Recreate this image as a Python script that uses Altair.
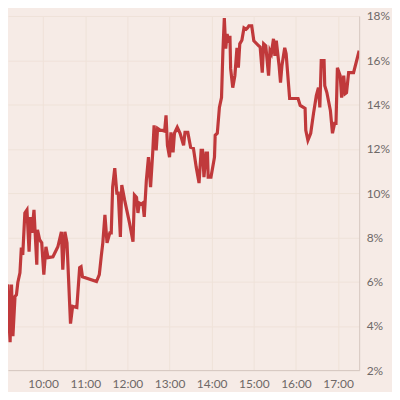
import altair as alt
import pandas as pd

times = ["09:00","09:01","09:02","09:03","09:04","09:06","09:08","09:10","09:11","09:13","09:15","09:17","09:20","09:22","09:24","09:27","09:29","09:31","09:34","09:37","09:40","09:42","09:44","09:47","09:51","09:52","09:55","09:58","10:01","10:04","10:07","10:14","10:21","10:26","10:28","10:31","10:34","10:39","10:42","10:48","10:52","10:54","10:56","11:16","11:20","11:23","11:25","11:28","11:31","11:35","11:37","11:39","11:42","11:45","11:47","11:50","11:52","11:56","12:03","12:08","12:10","12:13","12:15","12:17","12:20","12:22","12:24","12:27","12:30","12:33","12:36","12:38","12:41","12:43","12:47","12:50","12:53","12:55","12:57","13:00","13:02","13:05","13:07","13:11","13:15","13:20","13:22","13:26","13:30","13:34","13:38","13:42","13:45","13:47","13:49","13:52","13:54","13:55","13:59","14:04","14:05","14:08","14:11","14:14","14:16","14:18","14:20","14:22","14:24","14:26","14:27","14:30","14:33","14:36","14:38","14:40","14:43","14:46","14:49","14:51","14:53","14:57","15:00","15:07","15:09","15:12","15:14","15:17","15:21","15:23","15:25","15:28","15:30","15:32","15:36","15:38","15:40","15:44","15:46","15:51","15:57","16:03","16:06","16:13","16:14","16:17","16:21","16:25","16:29","16:32","16:34","16:36","16:40","16:41","16:44","16:49","16:52","16:55","16:57","16:59","17:03","17:05","17:08","17:10","17:12","17:15","17:22","17:30"]
values = [4.6,6.9,4.5,6.9,5.0,6.2,5.06,5.87,4.5,3.26,5.87,3.53,5.33,5.4,5.96,6.4,7.53,7.2,9.10,9.24,7.35,8.92,8.20,9.24,6.76,8.34,7.9,7.75,6.31,7.57,7.08,7.12,7.57,8.25,6.54,8.25,7.75,4.1,4.88,4.83,6.63,6.67,6.22,6.0,6.31,7.21,7.75,9.01,7.75,8.2,8.2,10.27,11.12,10.0,10.0,8.02,10.36,9.69,8.65,7.80,9.91,9.8,9.10,9.55,9.5,9.55,8.92,10.58,11.62,10.27,11.80,13.06,11.93,12.92,12.83,12.83,12.8,13.51,12.16,11.62,12.74,11.84,12.7,12.97,12.7,12.16,12.74,12.74,12.07,12.02,11.17,10.45,11.93,11.93,10.72,11.80,11.80,10.72,10.72,11.62,12.61,12.70,13.87,14.31,16.43,17.91,16.52,17.19,16.79,17.10,15.62,14.76,15.30,16.56,15.66,16.74,16.9,17.46,17.4,17.46,17.55,17.55,16.88,16.65,16.6,15.44,16.74,16.65,15.30,16.43,16.3,16.97,16.20,16.88,15.75,14.99,15.75,16.56,16.29,14.27,14.27,14.27,13.96,13.82,12.83,12.38,12.70,13.60,14.40,14.76,13.87,15.98,15.98,14.85,14.54,13.73,12.70,13.15,13.15,15.66,15.30,14.31,15.30,14.49,14.54,15.44,15.44,16.43]
hour_ticks = [10, 11, 12, 13, 14, 15, 16, 17]
pct_ticks = [2, 4, 6, 8, 10, 12, 14, 16, 18]

df = pd.DataFrame({"time": ["2024-01-01T" + t for t in times], "value": values})

bg = "#f6ebe6"
grid = "#efe2d9"
axis_col = "#d5c7bf"
label_col = "#6e6866"

x_axis = alt.Axis(format="%H:%M",
                  values=[alt.DateTime(year=2024, month=1, date=1, hours=h) for h in hour_ticks],
                  grid=True, gridColor=grid, domainColor=axis_col, ticks=False, labelPadding=8,
                  labelFont="Lato", labelFontSize=12, labelColor=label_col, title=None)
y_axis = alt.Axis(orient="right", values=pct_ticks, labelExpr="datum.value + '%'",
                  grid=True, gridColor=grid, domainColor=axis_col, ticks=False, labelPadding=7,
                  labelFont="Lato", labelFontSize=12, labelColor=label_col, title=None)

chart = alt.Chart(df).mark_line(color="#c0393b", strokeWidth=3.2, clip=True).encode(
    x=alt.X("time:T", axis=x_axis,
            scale=alt.Scale(domain=[alt.DateTime(year=2024, month=1, date=1, hours=9, minutes=10),
                                    alt.DateTime(year=2024, month=1, date=1, hours=17, minutes=30)])),
    y=alt.Y("value:Q", axis=y_axis, scale=alt.Scale(domain=[2, 18], nice=False, zero=False)),
).properties(
    width=353, height=356, background=bg,
    padding={"left": 0, "top": 1, "right": 2, "bottom": 2},
).configure_view(stroke=None)

chart.save("out.html", embed_options={"renderer": "svg", "actions": False})
